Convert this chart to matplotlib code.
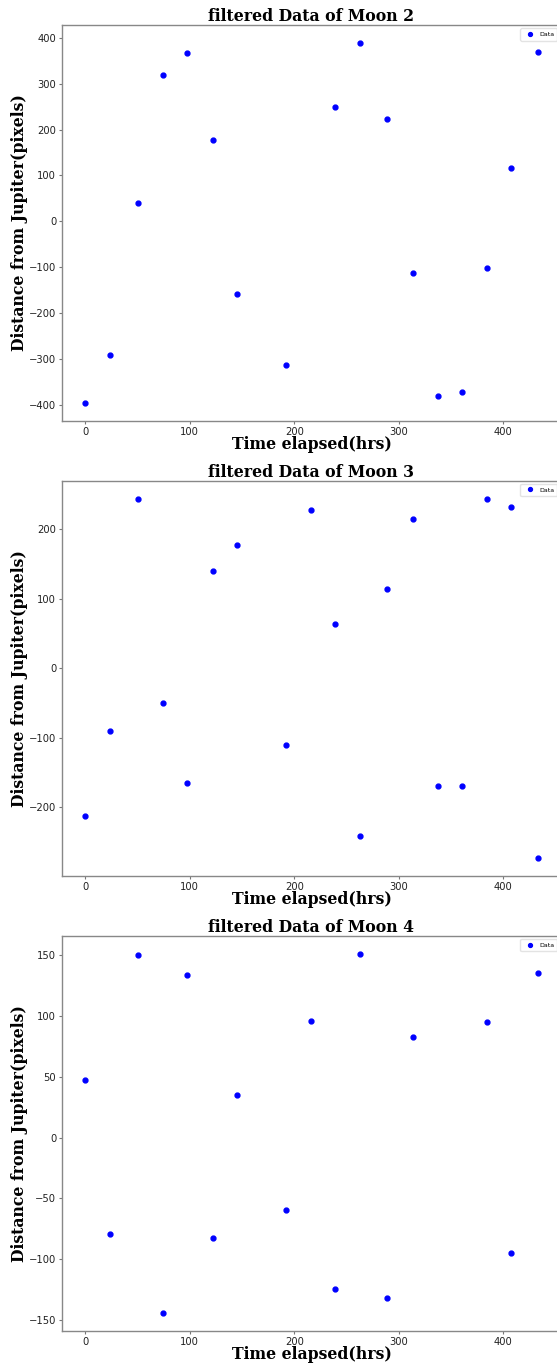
import matplotlib
matplotlib.use("Agg")
import matplotlib.pyplot as plt

# ---- data ----
moon2_t = [0, 24, 51, 75, 97, 122, 145, 192, 239, 263, 289, 314, 337, 360, 384, 407, 433]
moon2_d = [-395, -290, 41, 318, 367, 177, -159, -312, 250, 388, 222, -113, -381, -372, -101, 116, 370]

moon3_t = [0, 24, 51, 75, 97, 122, 145, 192, 216, 239, 263, 289, 314, 337, 360, 384, 407, 433]
moon3_d = [-213, -90, 243, -50, -166, 140, 177, -111, 227, 64, -242, 114, 215, -169, -169, 244, 232, -273]

moon4_t = [0, 24, 51, 75, 97, 122, 145, 192, 216, 239, 263, 289, 314, 384, 407, 433]
moon4_d = [47.5, -79, 150, -144, 134, -83, 35, -60, 96, -125, 151, -132, 83, 95, -95, 135]

titles = ["filtered Data of Moon 2", "filtered Data of Moon 3", "filtered Data of Moon 4"]
xlabel = "Time elapsed(hrs)"
ylabel = "Distance from Jupiter(pixels)"
legend_label = "Data"

W, H = 557, 1366
fig = plt.figure(figsize=(W / 100, H / 100), dpi=100)

# axes boxes in pixels: (left, top, right, bottom)
boxes = [(62.4, 25.3, 560.6, 420.7), (62.4, 480.7, 560.6, 875.7), (62.4, 936.0, 560.6, 1330.5)]
series = [(moon2_t, moon2_d), (moon3_t, moon3_d), (moon4_t, moon4_d)]

label_font = dict(family="DejaVu Serif", weight="bold", size=11.3)

for (l, t, r, b), (xs, ys), title in zip(boxes, series, titles):
    ax = fig.add_axes([l / W, 1 - b / H, (r - l) / W, (b - t) / H])
    ax.plot(xs, ys, "o", color="blue", markersize=3.5, label=legend_label)
    ax.set_title(title, fontdict=label_font, pad=1.5)
    ax.set_xlabel(xlabel, fontdict=label_font, labelpad=-0.5)
    ax.set_ylabel(ylabel, fontdict=label_font, labelpad=0.5)
    ax.tick_params(labelsize=7.2, colors="#777777", labelcolor="#222222", length=2.5, width=0.8, pad=2)
    for s in ax.spines.values():
        s.set_color("#888888")
        s.set_linewidth(1.0)
    ax.legend(loc="upper right", fontsize=4.5, markerscale=0.8, handletextpad=0.4, borderpad=0.55,
              framealpha=0.8, edgecolor="#dddddd")

fig.savefig("out.png", dpi=100)
